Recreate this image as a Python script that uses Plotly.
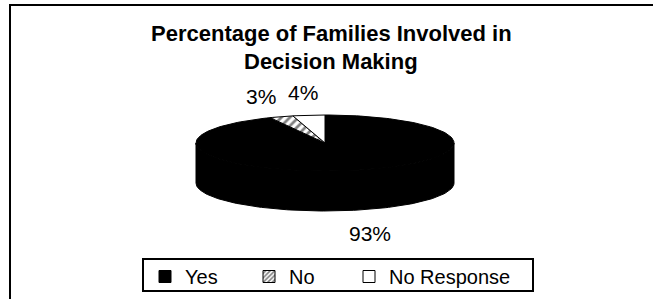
import numpy as np
import plotly.graph_objects as go

# ---- data ----
labels = ["Yes", "No", "No Response"]
values = [93, 3, 4]
title_lines = ["Percentage of Families Involved in", "Decision Making"]

# ---- styles ----
FONT = "Arial, Liberation Sans, sans-serif"
W, H = 653, 299
CX, CY = 325, 143      # centre of top face (pixel-like axis units)
RA, RB = 129, 28       # ellipse semi-axes
DEPTH = 40             # thickness of 3-D slab
slice_fill = {
    "Yes": dict(fillcolor="black"),
    "No": dict(fillcolor="white",
               fillpattern=dict(shape="/", fgcolor="black", bgcolor="white",
                                size=6, solidity=0.45)),
    "No Response": dict(fillcolor="white"),
}
label_pos = {"Yes": (370, 233), "No": (261, 96), "No Response": (303, 92)}
title_y = [33, 61]
legend_text_x = {"Yes": 187, "No": 291, "No Response": 391}
legend_box = (143, 259, 533, 291)

fig = go.Figure()

total = float(sum(values))
fracs = [v / total for v in values]
starts = np.concatenate([[0.0], np.cumsum(fracs)[:-1]]) * 2 * np.pi
ends = np.cumsum(fracs) * 2 * np.pi


def ell(t, dy=0.0):
    return CX + RA * np.sin(t), CY - RB * np.cos(t) + dy


# side walls (front half only is visible)
for lab, s, e in zip(labels, starts, ends):
    lo, hi = max(s, np.pi / 2), min(e, 3 * np.pi / 2)
    if hi <= lo:
        continue
    t = np.linspace(lo, hi, 120)
    xt, yt = ell(t)
    xb, yb = ell(t[::-1], DEPTH)
    fig.add_trace(go.Scatter(
        x=np.concatenate([xt, xb, xt[:1]]), y=np.concatenate([yt, yb, yt[:1]]),
        mode="lines", fill="toself", line=dict(color="black", width=1),
        showlegend=False, hoverinfo="skip", **slice_fill[lab]))

# top face wedges
for lab, s, e in zip(labels, starts, ends):
    t = np.linspace(s, e, max(4, int(200 * (e - s) / (2 * np.pi)) + 4))
    xs, ys = ell(t)
    fig.add_trace(go.Scatter(
        x=np.concatenate([[CX], xs, [CX]]), y=np.concatenate([[CY], ys, [CY]]),
        mode="lines", fill="toself", line=dict(color="black", width=1),
        showlegend=False, hoverinfo="skip", **slice_fill[lab]))

# legend entries (bar swatches support patterns), one legend per entry
legend_marker = {
    "Yes": dict(color="black", line=dict(color="black", width=1)),
    "No": dict(color="white", line=dict(color="black", width=1),
               pattern=dict(shape="/", fgcolor="black", bgcolor="white", size=4, solidity=0.5)),
    "No Response": dict(color="white", line=dict(color="black", width=1)),
}
legend_layout = {}
for i, lab in enumerate(labels):
    key = "legend" if i == 0 else f"legend{i + 1}"
    fig.add_trace(go.Bar(x=[None], y=[None], name=lab, marker=legend_marker[lab],
                         showlegend=True, hoverinfo="skip", legend=key))
    legend_layout[key] = dict(
        orientation="h", x=(legend_text_x[lab] - 42) / W, xanchor="left",
        y=1 - 257 / H, yanchor="top",
        font=dict(family=FONT, size=20, color="black"),
        borderwidth=0, bgcolor="rgba(0,0,0,0)", itemwidth=30)

# legend frame
fig.add_shape(type="rect", x0=legend_box[0], y0=legend_box[1],
              x1=legend_box[2], y1=legend_box[3],
              line=dict(color="black", width=2), fillcolor="rgba(0,0,0,0)")

# percentage labels
for lab, v in zip(labels, values):
    x, y = label_pos[lab]
    fig.add_annotation(x=x, y=y, text=f"{v}%", showarrow=False,
                       font=dict(family=FONT, size=21, color="black"),
                       xanchor="center", yanchor="middle")

# title (two lines)
for line, ty in zip(title_lines, title_y):
    fig.add_annotation(x=331, y=ty, text=f"<b>{line}</b>", showarrow=False,
                       font=dict(family=FONT, size=22, color="black"),
                       xanchor="center", yanchor="middle")

# outer frame
fig.add_shape(type="rect", x0=10, y0=5, x1=W + 20, y1=H + 20,
              line=dict(color="black", width=2), fillcolor="rgba(0,0,0,0)")

fig.update_layout(
    width=W, height=H, margin=dict(l=0, r=0, t=0, b=0),
    paper_bgcolor="white", plot_bgcolor="white",
    xaxis=dict(range=[0, W], visible=False, fixedrange=True),
    yaxis=dict(range=[H, 0], visible=False, fixedrange=True),
    showlegend=True,
    **legend_layout,
)

fig.write_html("out.html", config={"displayModeBar": False},
               post_script="document.body.style.margin='0px';")
